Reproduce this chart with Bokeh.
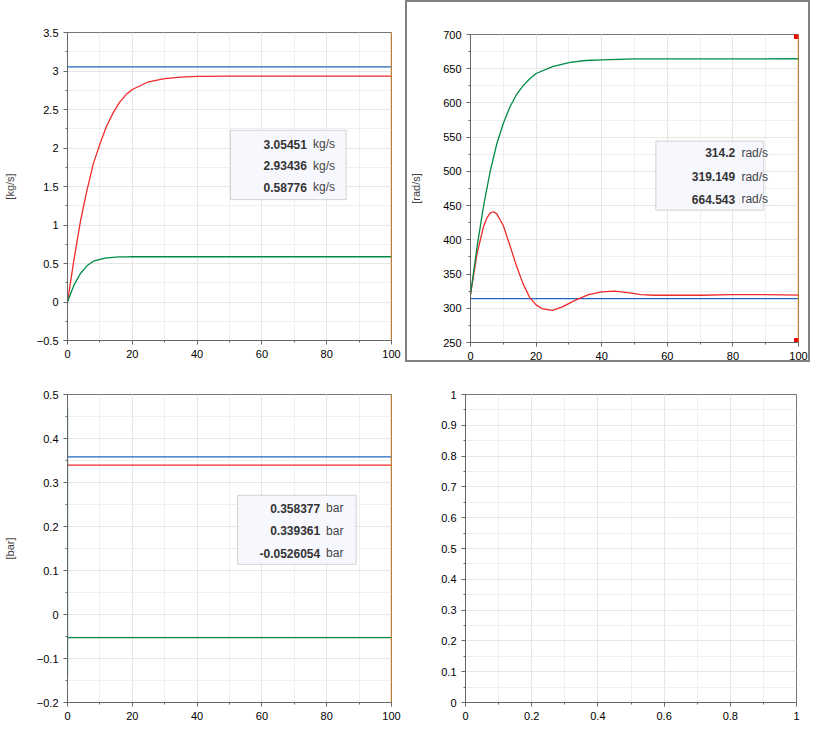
from bokeh.plotting import figure
from bokeh.layouts import column, row
from bokeh.models import Range1d, Legend, LegendItem, Span, BoxAnnotation, Label, SingleIntervalTicker
from bokeh.embed import file_html
from bokeh.resources import INLINE

BLUE, RED, GREEN, ORANGE = "#1f66c2", "#ee2a2a", "#008a47", "#e8850c"

# top-left: mass flow [kg/s]
t_mf = [0, 2, 4, 6, 8, 10, 12, 14, 16, 18, 20, 25, 30, 35, 40, 50, 100]
mflow_D = [3.05451] * len(t_mf)
mflow_corr = [0, 0.55, 1.05, 1.45, 1.8, 2.05, 2.28, 2.45, 2.59, 2.69, 2.76, 2.86, 2.9, 2.92, 2.93, 2.934, 2.93436]
mflow_leg = [0, 0.22, 0.37, 0.47, 0.53, 0.555, 0.572, 0.58, 0.585, 0.587, 0.5876, 0.5877, 0.5877, 0.5877, 0.5877, 0.5877, 0.58776]

# top-right: omega [rad/s]
t_om = [0, 2, 4, 5, 6, 7, 8, 10, 12, 14, 16, 18, 20, 22, 25, 28, 32, 36, 40, 44, 48, 52, 56, 70, 80, 90, 100]
omega_D = [314.2] * len(t_om)
omega_corr = [320, 380, 420, 432, 439, 441, 438, 421, 392, 362, 336, 316, 305, 299, 297, 302, 312, 320, 324, 325, 323, 320, 319, 319, 320, 320, 319.149]
t_oml = [0, 2, 4, 6, 8, 10, 12, 14, 16, 18, 20, 25, 30, 35, 40, 50, 100]
omega_leg = [320, 390, 450, 500, 540, 570, 594, 612, 625, 635, 643, 653, 659, 662, 663, 664.3, 664.543]

# bottom-left: dp [bar]
t_dp = [0, 100]
dp_D = [0.358377, 0.358377]
dp_corr = [0.339361, 0.339361]
t_dpl = [0, 0, 0.01, 100]
dp_leg = [0.47, -0.145, -0.0526054, -0.0526054]

W, H = 405, 362

def base(yr, ylabel, yticker, top=32, styles=None):
    p = figure(width=W, height=H, output_backend="svg", toolbar_location=None,
               x_range=Range1d(0, 100), y_range=yr, min_border_left=60,
               min_border_right=14, min_border_top=top, min_border_bottom=22)
    if styles:
        p.styles = styles
    p.outline_line_color = "#777777"
    p.xaxis.ticker = SingleIntervalTicker(interval=20, num_minor_ticks=2)
    p.yaxis.ticker = yticker
    for ax in (p.xaxis[0], p.yaxis[0]):
        ax.axis_line_color = "#666666"
        ax.major_tick_line_color = "#666666"
        ax.minor_tick_line_color = "#666666"
        ax.major_tick_in = 0
        ax.major_tick_out = 4
        ax.minor_tick_in = 0
        ax.minor_tick_out = 2
        ax.major_label_text_font = "Liberation Sans"
        ax.major_label_text_font_size = "11px"
        ax.major_label_text_color = "black"
    if ylabel:
        p.yaxis.axis_label = ylabel
        p.yaxis.axis_label_text_font_style = "normal"
        p.yaxis.axis_label_text_font_size = "11px"
        p.yaxis.axis_label_text_font = "Liberation Sans"
        p.yaxis.axis_label_standoff = 18
    for g in (p.xgrid[0], p.ygrid[0]):
        g.grid_line_color = "#e6e6e6"
        g.minor_grid_line_color = "#efefef"
    return p

def legend(p, rs, labels):
    lg = Legend(items=[LegendItem(label=l, renderers=[r]) for l, r in zip(labels, rs)],
                orientation="horizontal", location=(-2, 310), border_line_color=None,
                background_fill_alpha=0,
                label_text_font="Liberation Sans", label_text_font_size="11px",
                glyph_width=28, spacing=10, padding=2, margin=0, label_standoff=8)
    p.add_layout(lg)

def tip(p, box, dots_x, rows_y, vals_x, units_x, vals, unit):
    p.add_layout(BoxAnnotation(left=box[0], right=box[1], bottom=box[2], top=box[3],
                               fill_color="#f7f8fe", fill_alpha=1, line_color="#777777",
                               line_width=1))
    for y, v, c in zip(rows_y, vals, [BLUE, RED, GREEN]):
        p.scatter([dots_x], [y], size=7, color=c)
        p.add_layout(Label(x=vals_x, y=y, text=v, text_align="right", text_baseline="middle",
                           text_font="Liberation Sans", text_font_size="12px",
                           text_font_style="bold", text_color="#333333"))
        p.add_layout(Label(x=units_x, y=y, text=unit, text_align="left", text_baseline="middle",
                           text_font="Liberation Sans", text_font_size="12px", text_color="#444444"))

# panel 1
p1 = base(Range1d(-0.5, 3.5), "[kg/s]", SingleIntervalTicker(interval=0.5, num_minor_ticks=2))
r1 = p1.line(t_mf, mflow_D, color=BLUE, line_width=1.3)
r2 = p1.line(t_mf, mflow_corr, color=RED, line_width=1.3)
r3 = p1.line(t_mf, mflow_leg, color=GREEN, line_width=1.3)
legend(p1, [r1, r2, r3], ["m_flow_D", "correctedPump2.m_flow", "legacyPump.m_flow"])
p1.add_layout(Span(location=100, dimension="height", line_color=ORANGE, line_width=1.5))
tip(p1, (50.3, 86, 1.33, 2.23), 56.8, [2.05, 1.77, 1.49], 73.9, 75.8,
    ["3.05451", "2.93436", "0.58776"], "kg/s")

# panel 2
p2 = base(Range1d(250, 700), "[rad/s]", SingleIntervalTicker(interval=50, num_minor_ticks=2),
          styles={"border": "2px solid #808080"})
s1 = p2.line(t_om, omega_D, color=BLUE, line_width=1.3)
s2 = p2.line(t_om, omega_corr, color=RED, line_width=1.3)
s3 = p2.line(t_oml, omega_leg, color=GREEN, line_width=1.3)
legend(p2, [s1, s2, s3], ["omega_D", "correctedPump1.omega_input", "legacyPump.omega"])
p2.add_layout(Span(location=100, dimension="height", line_color=ORANGE, line_width=1.5))
p2.scatter([100, 100], [700, 250], marker="square", size=8, color="#ee0000")
tip(p2, (56.5, 89.4, 443.3, 544.2), 59.3, [527, 492.4, 459], 80.7, 82.6,
    ["314.2", "319.149", "664.543"], "rad/s")

# panel 3
p3 = base(Range1d(-0.2, 0.5), "[bar]", SingleIntervalTicker(interval=0.1, num_minor_ticks=2))
q1 = p3.line(t_dp, dp_D, color=BLUE, line_width=1.3)
q2 = p3.line(t_dp, dp_corr, color=RED, line_width=1.3)
q3 = p3.line(t_dpl, dp_leg, color=GREEN, line_width=1.3)
legend(p3, [q1, q2, q3], ["dp_D", "correctedPump.dp", "legacyPump.dp"])
p3.add_layout(Span(location=100, dimension="height", line_color=ORANGE, line_width=1.5))
tip(p3, (52.5, 89.1, 0.114, 0.271), 55.3, [0.242, 0.190, 0.139], 78, 79.8,
    ["0.358377", "0.339361", "-0.0526054"], "bar")

# panel 4 (empty)
p4 = base(Range1d(0, 1), None, SingleIntervalTicker(interval=0.1, num_minor_ticks=2), top=17)
p4.x_range = Range1d(0, 1)
p4.xaxis.ticker = SingleIntervalTicker(interval=0.2, num_minor_ticks=2)
p4.xaxis.formatter.use_scientific = False
p4.scatter([0.5], [0.5], alpha=0)

layout = column(row(p1, p2), row(p3, p4))
open("out.html", "w").write(file_html(layout, INLINE))
